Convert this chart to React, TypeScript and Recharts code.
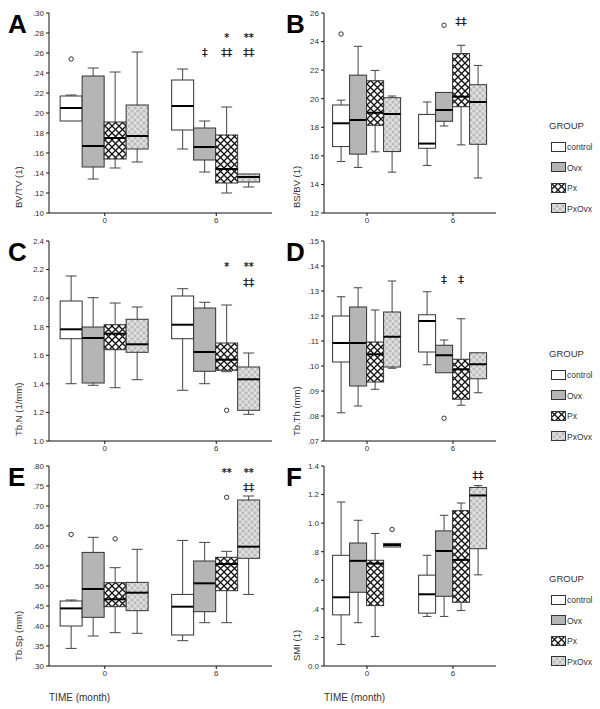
import React from "react";
import { ComposedChart, Bar, XAxis, YAxis, Legend } from "recharts";

type Box = number[]; // min, q1, median, q3, max
type Row = { time: string; control: Box; ovx: Box; px: Box; pxovx: Box };
type Outlier = { time: string; group: string; value: number };
type Mark = { time: string; group: string; value: number; text: string };

const GROUPS = ["control", "ovx", "px", "pxovx"];
const GROUP_LABELS = ["control", "Ovx", "Px", "PxOvx"];

// A: BV/TV
const BVTV: Row[] = [
  { time: "0", control: [0.192, 0.192, 0.205, 0.217, 0.218], ovx: [0.134, 0.146, 0.167, 0.237, 0.245], px: [0.145, 0.154, 0.175, 0.191, 0.241], pxovx: [0.151, 0.164, 0.177, 0.208, 0.261] },
  { time: "6", control: [0.164, 0.183, 0.207, 0.233, 0.244], ovx: [0.141, 0.153, 0.166, 0.185, 0.192], px: [0.12, 0.13, 0.144, 0.178, 0.206], pxovx: [0.126, 0.131, 0.136, 0.139, 0.139] },
];
const BVTV_OUTLIERS: Outlier[] = [{ time: "0", group: "control", value: 0.254 }];
const BVTV_MARKS: Mark[] = [
  { time: "6", group: "ovx", value: 0.261, text: "‡" },
  { time: "6", group: "px", value: 0.276, text: "*" },
  { time: "6", group: "px", value: 0.261, text: "‡‡" },
  { time: "6", group: "pxovx", value: 0.276, text: "**" },
  { time: "6", group: "pxovx", value: 0.261, text: "‡‡" },
];
const BVTV_TICKS = [0.1, 0.12, 0.14, 0.16, 0.18, 0.2, 0.22, 0.24, 0.26, 0.28, 0.3];
const BVTV_LABELS = [".10", ".12", ".14", ".16", ".18", ".20", ".22", ".24", ".26", ".28", ".30"];

// B: BS/BV
const BSBV: Row[] = [
  { time: "0", control: [15.6, 16.65, 18.28, 19.56, 19.9], ovx: [15.19, 16.12, 18.51, 21.65, 23.67], px: [16.28, 18.14, 19.02, 21.26, 21.98], pxovx: [14.86, 16.3, 18.93, 20.07, 20.19] },
  { time: "6", control: [15.33, 16.53, 16.86, 18.9, 19.77], ovx: [18.09, 18.42, 19.21, 20.44, 20.44], px: [16.77, 19.44, 20.14, 23.16, 23.74], pxovx: [14.45, 16.81, 19.77, 20.98, 22.33] },
];
const BSBV_OUTLIERS: Outlier[] = [
  { time: "0", group: "control", value: 24.53 },
  { time: "6", group: "ovx", value: 25.14 },
];
const BSBV_MARKS: Mark[] = [{ time: "6", group: "px", value: 25.44, text: "‡‡" }];
const BSBV_TICKS = [12, 14, 16, 18, 20, 22, 24, 26];
const BSBV_LABELS = ["12", "14", "16", "18", "20", "22", "24", "26"];

// C: Tb.N
const TBN: Row[] = [
  { time: "0", control: [1.401, 1.716, 1.782, 1.98, 2.155], ovx: [1.39, 1.406, 1.721, 1.798, 2.003], px: [1.373, 1.639, 1.751, 1.814, 1.966], pxovx: [1.429, 1.621, 1.677, 1.852, 1.938] },
  { time: "6", control: [1.355, 1.716, 1.814, 2.015, 2.066], ovx: [1.401, 1.488, 1.623, 1.931, 1.971], px: [1.485, 1.495, 1.569, 1.686, 1.952], pxovx: [1.187, 1.215, 1.432, 1.518, 1.616] },
];
const TBN_OUTLIERS: Outlier[] = [{ time: "6", group: "px", value: 1.215 }];
const TBN_MARKS: Mark[] = [
  { time: "6", group: "px", value: 2.223, text: "*" },
  { time: "6", group: "pxovx", value: 2.223, text: "**" },
  { time: "6", group: "pxovx", value: 2.113, text: "‡‡" },
];
const TBN_TICKS = [1.0, 1.2, 1.4, 1.6, 1.8, 2.0, 2.2, 2.4];
const TBN_LABELS = ["1.0", "1.2", "1.4", "1.6", "1.8", "2.0", "2.2", "2.4"];

// D: Tb.Th
const TBTH: Row[] = [
  { time: "0", control: [0.0813, 0.1016, 0.1092, 0.12, 0.1277], ovx: [0.084, 0.092, 0.1092, 0.1236, 0.1313], px: [0.0907, 0.0936, 0.1047, 0.1096, 0.1224], pxovx: [0.0991, 0.0996, 0.1117, 0.1216, 0.134] },
  { time: "6", control: [0.1005, 0.1056, 0.118, 0.1205, 0.1297], ovx: [0.0973, 0.0973, 0.1043, 0.1083, 0.1104], px: [0.0843, 0.0867, 0.0987, 0.1027, 0.1189], pxovx: [0.0893, 0.0949, 0.1007, 0.1053, 0.1053] },
];
const TBTH_OUTLIERS: Outlier[] = [{ time: "6", group: "ovx", value: 0.0791 }];
const TBTH_MARKS: Mark[] = [
  { time: "6", group: "ovx", value: 0.135, text: "‡" },
  { time: "6", group: "px", value: 0.135, text: "‡" },
];
const TBTH_TICKS = [0.07, 0.08, 0.09, 0.1, 0.11, 0.12, 0.13, 0.14, 0.15];
const TBTH_LABELS = [".07", ".08", ".09", ".10", ".11", ".12", ".13", ".14", ".15"];

// E: Tb.Sp
const TBSP: Row[] = [
  { time: "0", control: [0.344, 0.4, 0.444, 0.4625, 0.465], ovx: [0.375, 0.4217, 0.4925, 0.584, 0.6217], px: [0.3833, 0.4483, 0.4667, 0.5083, 0.5458], pxovx: [0.3817, 0.4383, 0.4833, 0.509, 0.5917] },
  { time: "6", control: [0.3633, 0.3775, 0.4483, 0.479, 0.614], ovx: [0.4083, 0.4358, 0.5067, 0.5625, 0.609], px: [0.4083, 0.4883, 0.555, 0.5717, 0.5867], pxovx: [0.479, 0.5692, 0.5983, 0.715, 0.725] },
];
const TBSP_OUTLIERS: Outlier[] = [
  { time: "0", group: "control", value: 0.629 },
  { time: "0", group: "px", value: 0.618 },
  { time: "6", group: "px", value: 0.7217 },
];
const TBSP_MARKS: Mark[] = [
  { time: "6", group: "px", value: 0.784, text: "**" },
  { time: "6", group: "pxovx", value: 0.784, text: "**" },
  { time: "6", group: "pxovx", value: 0.748, text: "‡‡" },
];
const TBSP_TICKS = [0.3, 0.35, 0.4, 0.45, 0.5, 0.55, 0.6, 0.65, 0.7, 0.75, 0.8];
const TBSP_LABELS = [".30", ".35", ".40", ".45", ".50", ".55", ".60", ".65", ".70", ".75", ".80"];

// F: SMI
const SMI: Row[] = [
  { time: "0", control: [0.15, 0.358, 0.481, 0.775, 1.148], ovx: [0.303, 0.516, 0.736, 0.861, 1.02], px: [0.206, 0.423, 0.717, 0.74, 0.928], pxovx: [0.833, 0.833, 0.847, 0.858, 0.858] },
  { time: "6", control: [0.347, 0.37, 0.502, 0.636, 0.775], ovx: [0.347, 0.488, 0.805, 0.946, 1.055], px: [0.388, 0.446, 0.743, 1.0875, 1.141], pxovx: [0.638, 0.821, 1.194, 1.25, 1.263] },
];
const SMI_OUTLIERS: Outlier[] = [{ time: "0", group: "pxovx", value: 0.956 }];
const SMI_MARKS: Mark[] = [{ time: "6", group: "pxovx", value: 1.3375, text: "‡‡" }];
const SMI_TICKS = [0, 0.2, 0.4, 0.6, 0.8, 1.0, 1.2, 1.4];
const SMI_LABELS = ["0.0", ".2", ".4", ".6", ".8", "1.0", "1.2", "1.4"];

const FILLS = ["#ffffff", "#b5b5b5", "url(#hatchPx)", "url(#hatchPxOvx)"];
const FONT = "'Liberation Sans', Arial, sans-serif";
const INK = "#333";

const boxShape = (g: string, fill: string, outliers: Outlier[], marks: Mark[]) => (props: any) => {
  const { x, y, width, height, payload } = props;
  const s: Box | undefined = payload && payload[g];
  if (!s) return <g />;
  const [mn, q1, md, q3, mx] = s;
  const span = mx - mn || 1;
  const top = Math.min(y, y + height);
  const h = Math.abs(height);
  const py = (v: number) => top + ((mx - v) / span) * h;
  const cx = x + width / 2;
  const cap = width * 0.25;
  const outs = outliers.filter((o) => o.time === payload.time && o.group === g);
  const mks = marks.filter((m) => m.time === payload.time && m.group === g);
  return (
    <g>
      {mx > q3 && <line x1={cx} x2={cx} y1={py(mx)} y2={py(q3)} stroke="#444" />}
      {mx > q3 && <line x1={cx - cap} x2={cx + cap} y1={py(mx)} y2={py(mx)} stroke="#444" />}
      {mn < q1 && <line x1={cx} x2={cx} y1={py(q1)} y2={py(mn)} stroke="#444" />}
      {mn < q1 && <line x1={cx - cap} x2={cx + cap} y1={py(mn)} y2={py(mn)} stroke="#444" />}
      <rect x={x} y={py(q3)} width={width} height={py(q1) - py(q3)} fill={fill} stroke={INK} strokeWidth={1} />
      <line x1={x} x2={x + width} y1={py(md)} y2={py(md)} stroke="#000" strokeWidth={2} />
      {outs.map((o, i) => (
        <circle key={i} cx={cx} cy={py(o.value)} r={2.2} fill="#fff" stroke={INK} strokeWidth={1} />
      ))}
      {mks.map((m, i) => (
        <text
          key={i}
          x={cx}
          y={py(m.value) + 4}
          textAnchor="middle"
          fontSize={m.text.includes("*") ? 10 : 11}
          fontFamily="'DejaVu Sans', sans-serif"
          fill="#1a1a1a"
          stroke="#1a1a1a"
          strokeWidth={0.25}
        >
          {m.text}
        </text>
      ))}
    </g>
  );
};

function YTitle(props: any) {
  const vb = props.viewBox || {};
  const tx = (vb.x || 0) + props.dx;
  const ty = (vb.y || 0) + (vb.height || 0) - 5;
  return (
    <text x={tx} y={ty} transform={`rotate(-90 ${tx} ${ty})`} textAnchor="start" fontSize={9.5} fill={INK} fontFamily={FONT}>
      {props.text}
    </text>
  );
}

function XTitle(props: any) {
  const vb = props.viewBox || {};
  return (
    <text x={vb.x || 0} y={(vb.y || 0) + 35} textAnchor="start" fontSize={10} fill={INK} fontFamily={FONT}>
      {props.text}
    </text>
  );
}

function GroupLegend() {
  return (
    <div style={{ fontFamily: FONT, color: INK, width: 52 }}>
      <div style={{ fontSize: 9.5, height: 12, lineHeight: "12px", marginBottom: 5 }}>GROUP</div>
      {GROUP_LABELS.map((g, i) => (
        <div key={g} style={{ display: "flex", alignItems: "center", height: 20.5 }}>
          <svg width={16} height={11} style={{ marginLeft: 2 }}>
            <rect x={0.5} y={0.5} width={14} height={9} fill={FILLS[i]} stroke={INK} />
          </svg>
          <span style={{ fontSize: 8.5 }}>{g}</span>
        </div>
      ))}
    </div>
  );
}

type PanelProps = {
  letter: string;
  data: Row[];
  outliers: Outlier[];
  marks: Mark[];
  ticks: number[];
  labels: string[];
  title: string;
  left: number;
  top: number;
  right: boolean;
  bottomRow: boolean;
};

function Panel(p: PanelProps) {
  const width = p.right ? 324 : 276;
  const height = p.bottomRow ? 256 : 228;
  const domain = [p.ticks[0], p.ticks[p.ticks.length - 1]];
  const axisStyle = { fontSize: 8, fill: INK, fontFamily: FONT };
  return (
    <div style={{ position: "absolute", left: p.left, top: p.top, width, height }}>
      <ComposedChart
        width={width}
        height={height}
        data={p.data}
        margin={{ top: 13, right: p.right ? 52 : 4, left: 0, bottom: 0 }}
        barCategoryGap="10%"
        barGap={0}
      >
        <XAxis
          dataKey="time"
          height={p.bottomRow ? 43 : 15}
          tick={axisStyle}
          tickSize={3}
          tickMargin={1}
          axisLine={{ stroke: "#111" }}
          tickLine={{ stroke: "#111" }}
          label={p.bottomRow ? <XTitle text="TIME (month)" /> : undefined}
        />
        <XAxis xAxisId="top" dataKey="time" orientation="top" height={0} tick={false} tickLine={false} axisLine={{ stroke: "#111" }} />
        <YAxis
          type="number"
          domain={domain}
          ticks={p.ticks}
          allowDataOverflow
          width={p.right ? 48 : 49}
          tick={axisStyle}
          tickSize={3}
          tickMargin={2}
          interval={0}
          tickFormatter={(v: number) => p.labels[p.ticks.indexOf(v)] ?? String(v)}
          axisLine={{ stroke: "#111" }}
          tickLine={{ stroke: "#111" }}
          label={<YTitle text={p.title} dx={p.right ? 24 : 22} />}
        />
        <YAxis yAxisId="right" orientation="right" type="number" domain={domain} width={0} tick={false} tickLine={false} axisLine={{ stroke: "#111" }} />
        {p.right && (
          <Legend
            layout="horizontal"
            verticalAlign="middle"
            align="right"
            wrapperStyle={{ left: 273, top: 120, width: 52 }}
            content={() => <GroupLegend />}
          />
        )}
        {GROUPS.map((g, i) => (
          <Bar
            key={g}
            name={GROUP_LABELS[i]}
            dataKey={(d: Row) => [(d as any)[g][0], (d as any)[g][4]]}
            fill={FILLS[i]}
            isAnimationActive={false}
            shape={boxShape(g, FILLS[i], p.outliers, p.marks)}
          />
        ))}
      </ComposedChart>
      <div
        style={{
          position: "absolute",
          left: p.right ? 10 : 8,
          top: 10.5,
          fontFamily: FONT,
          fontWeight: 700,
          fontSize: 26,
          lineHeight: "26px",
          color: "#000",
        }}
      >
        {p.letter}
      </div>
    </div>
  );
}

export default function App() {
  return (
    <div style={{ position: "absolute", left: 0, top: 0, width: 600, height: 709, background: "#fff", overflow: "hidden" }}>
      <svg width={0} height={0} style={{ position: "absolute" }}>
        <defs>
          <pattern id="hatchPx" patternUnits="userSpaceOnUse" width={7} height={7}>
            <rect width={7} height={7} fill="#fff" />
            <path d="M0,0 L7,7 M7,0 L0,7" stroke="#111" strokeWidth={1.3} />
          </pattern>
          <pattern id="hatchPxOvx" patternUnits="userSpaceOnUse" width={6} height={6}>
            <rect width={6} height={6} fill="#bdbdbd" />
            <path d="M0,0 L6,6 M6,0 L0,6" stroke="#e6e6e6" strokeWidth={1.2} />
          </pattern>
        </defs>
      </svg>
      <Panel letter="A" data={BVTV} outliers={BVTV_OUTLIERS} marks={BVTV_MARKS} ticks={BVTV_TICKS} labels={BVTV_LABELS} title="BV/TV (1)" left={0} top={0} right={false} bottomRow={false} />
      <Panel letter="B" data={BSBV} outliers={BSBV_OUTLIERS} marks={BSBV_MARKS} ticks={BSBV_TICKS} labels={BSBV_LABELS} title="BS/BV (1)" left={276} top={0} right={true} bottomRow={false} />
      <Panel letter="C" data={TBN} outliers={TBN_OUTLIERS} marks={TBN_MARKS} ticks={TBN_TICKS} labels={TBN_LABELS} title="Tb.N (1/mm)" left={0} top={228} right={false} bottomRow={false} />
      <Panel letter="D" data={TBTH} outliers={TBTH_OUTLIERS} marks={TBTH_MARKS} ticks={TBTH_TICKS} labels={TBTH_LABELS} title="Tb.Th (mm)" left={276} top={228} right={true} bottomRow={false} />
      <Panel letter="E" data={TBSP} outliers={TBSP_OUTLIERS} marks={TBSP_MARKS} ticks={TBSP_TICKS} labels={TBSP_LABELS} title="Tb.Sp (mm)" left={0} top={453} right={false} bottomRow={true} />
      <Panel letter="F" data={SMI} outliers={SMI_OUTLIERS} marks={SMI_MARKS} ticks={SMI_TICKS} labels={SMI_LABELS} title="SMI (1)" left={276} top={453} right={true} bottomRow={true} />
    </div>
  );
}
